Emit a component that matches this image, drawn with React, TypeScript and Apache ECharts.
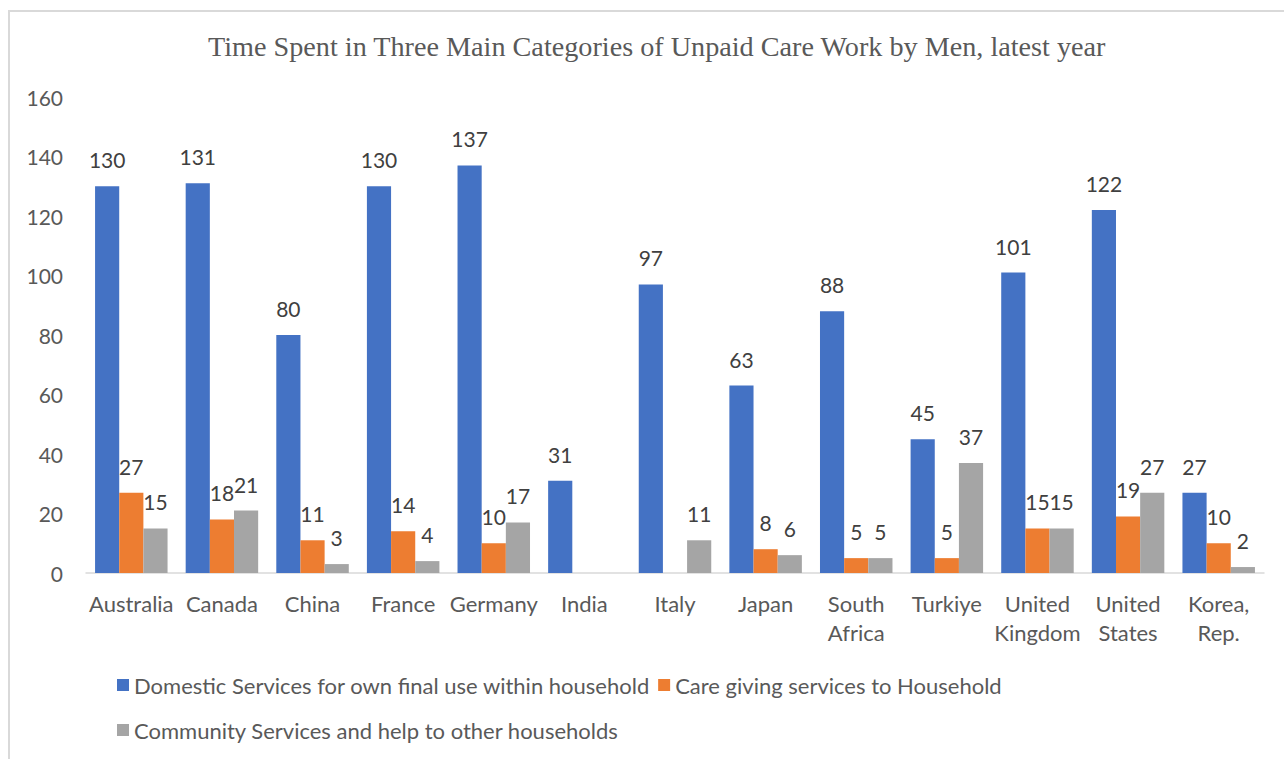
import React, { useEffect, useRef } from "react";
import * as echarts from "echarts";

const categories = [
  "Australia", "Canada", "China", "France", "Germany", "India", "Italy",
  "Japan", "South\nAfrica", "Turkiye", "United\nKingdom", "United\nStates", "Korea,\nRep.",
];
const domestic = [130, 131, 80, 130, 137, 31, 97, 63, 88, 45, 101, 122, 27];
const careGiving = [27, 18, 11, 14, 10, null, null, 8, 5, 5, 15, 19, 10];
const community = [15, 21, 3, 4, 17, null, 11, 6, 5, 37, 15, 27, 2];
const seriesNames = [
  "Domestic Services for own final use within household",
  "Care giving services to Household",
  "Community Services and help to other households",
];
const colors = ["#4472C4", "#ED7D31", "#A5A5A5"];
const titleText = "Time Spent in Three Main Categories of Unpaid Care Work by Men, latest year";

const FONT = "Lato, 'Open Sans', sans-serif";

export default function App() {
  const ref = useRef<HTMLDivElement>(null);
  useEffect(() => {
    if (!ref.current) return;
    const chart = echarts.init(ref.current, undefined, { renderer: "svg" });
    const label = {
      show: true,
      position: "top",
      distance: 16,
      color: "#404040",
      fontSize: 21,
      fontFamily: FONT,
    };
    const values = [domestic, careGiving, community];
    const legendText = { fontSize: 22, color: "#595959", fontFamily: FONT };
    chart.setOption({
      animation: false,
      backgroundColor: "#fff",
      textStyle: { fontFamily: FONT },
      title: {
        text: titleText,
        left: 203,
        top: 27,
        textStyle: {
          fontFamily: "'Liberation Serif', 'DejaVu Serif', serif",
          fontWeight: "normal",
          fontSize: 28.2,
          color: "#595959",
        },
      },
      graphic: [
        {
          type: "rect",
          shape: { x: 9, y: 11, width: 1300, height: 800 },
          style: { fill: "none", stroke: "#d9d9d9", lineWidth: 2 },
          silent: true,
        },
      ],
      legend: [
        {
          data: [seriesNames[0], seriesNames[1]],
          left: 112,
          top: 669,
          icon: "rect",
          itemWidth: 12,
          itemHeight: 12,
          itemGap: 8,
          textStyle: legendText,
        },
        {
          data: [seriesNames[2]],
          left: 112,
          top: 714,
          icon: "rect",
          itemWidth: 12,
          itemHeight: 12,
          textStyle: legendText,
        },
      ],
      grid: { left: 86, right: 20, top: 97, bottom: 186, containLabel: false },
      xAxis: {
        type: "category",
        data: categories,
        axisLine: { lineStyle: { color: "#d9d9d9", width: 1.5 } },
        axisTick: { show: false },
        axisLabel: {
          color: "#595959",
          fontSize: 22,
          fontFamily: FONT,
          margin: 16,
          lineHeight: 29,
          interval: 0,
        },
      },
      yAxis: {
        type: "value",
        min: 0,
        max: 160,
        interval: 20,
        splitLine: { show: false },
        axisLine: { show: false },
        axisTick: { show: false },
        axisLabel: { color: "#595959", fontSize: 21, fontFamily: FONT, margin: 23 },
      },
      series: seriesNames.map((name, i) => ({
        name,
        type: "bar",
        data: values[i],
        barGap: "0%",
        barCategoryGap: "20%",
        itemStyle: { color: colors[i] },
        label,
      })),
    });
    return () => chart.dispose();
  }, []);
  return (
    <div
      ref={ref}
      style={{ position: "absolute", left: 0, top: 0, width: 1284, height: 759 }}
    />
  );
}
